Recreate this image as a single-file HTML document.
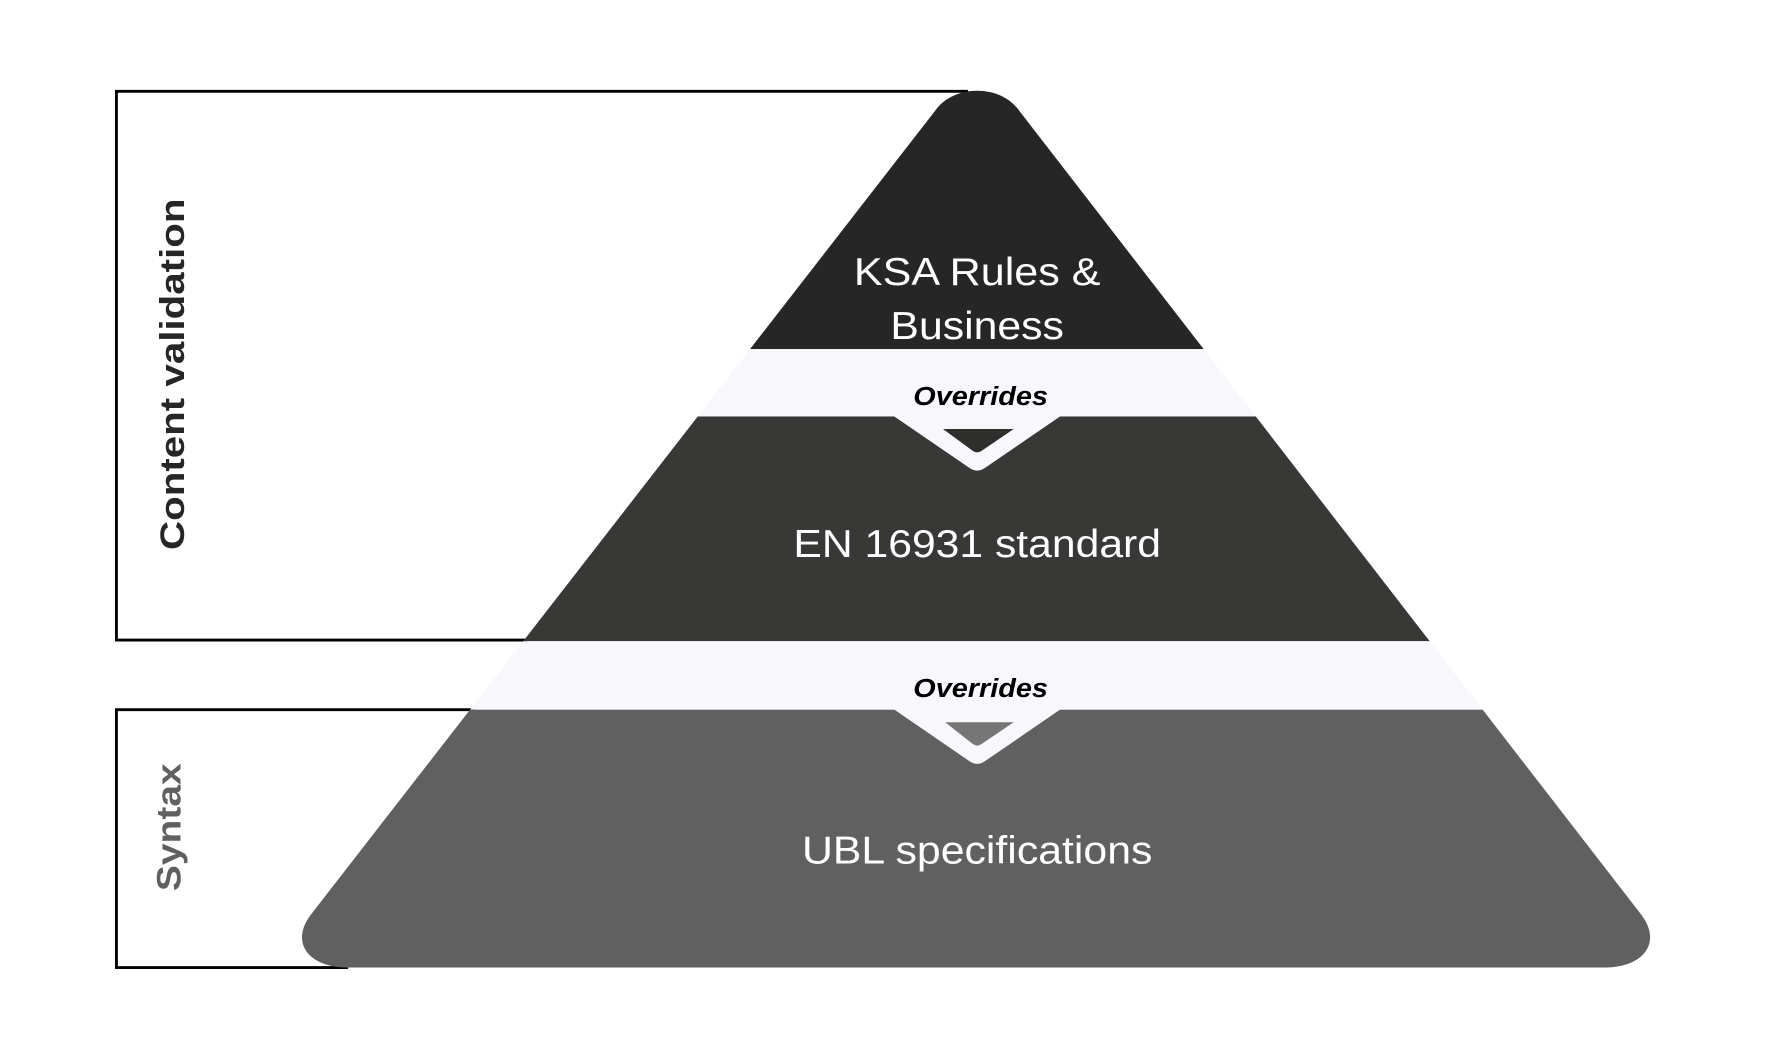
<!DOCTYPE html>
<html><head><meta charset="utf-8"><style>html,body{margin:0;padding:0;background:#fff}svg{display:block}</style></head>
<body>
<svg width="1790" height="1044" viewBox="0 0 1568 915" preserveAspectRatio="none" xmlns="http://www.w3.org/2000/svg">
<defs>
<clipPath id="pyr"><path d="M820,96 C836,74 876,74 892,96 L1438,802 C1456,826 1440,848 1405,848 L305,848 C270,848 254,826 272,802 Z"/></clipPath>
</defs>
<rect width="1568" height="915" fill="#fff"/>
<g stroke="#000" stroke-width="2.5" fill="none">
<path d="M848,80 L102,80 L102,561 L462,561"/>
<path d="M416,622 L102,622 L102,848 L305,848"/>
</g>
<g clip-path="url(#pyr)">
<rect x="0" y="0" width="1568" height="306" fill="#262626"/>
<rect x="0" y="306" width="1568" height="59" fill="#f8f7fc"/>
<rect x="0" y="365" width="1568" height="197" fill="#383937"/>
<rect x="0" y="562" width="1568" height="60" fill="#f8f7fc"/>
<rect x="0" y="622" width="1568" height="230" fill="#606060"/>
</g>
<path d="M782,364 L930,364 L863,410 Q856,415 849,410 Z" fill="#f8f7fc"/>
<path d="M826,376 L888,376 L860,395 Q856,398 852,395 Z" fill="#2e2f2d"/>
<path d="M782,621 L930,621 L863,667 Q856,672 849,667 Z" fill="#f8f7fc"/>
<path d="M828,633 L888,633 L860,652 Q856,655 852,652 Z" fill="#767676"/>
<g font-family="Liberation Sans, Arial, sans-serif" fill="#fff" font-size="34" text-anchor="middle">
<text x="856" y="250" textLength="216" lengthAdjust="spacingAndGlyphs">KSA Rules &amp;</text>
<text x="856" y="297" textLength="152" lengthAdjust="spacingAndGlyphs">Business</text>
<text x="856" y="488" textLength="322" lengthAdjust="spacingAndGlyphs">EN 16931 standard</text>
<text x="856" y="757" textLength="307" lengthAdjust="spacingAndGlyphs">UBL specifications</text>
</g>
<g font-family="Liberation Sans, Arial, sans-serif" font-weight="bold" font-style="italic" font-size="23" fill="#000" text-anchor="middle">
<text x="859" y="355" textLength="118" lengthAdjust="spacingAndGlyphs">Overrides</text>
<text x="859" y="611" textLength="118" lengthAdjust="spacingAndGlyphs">Overrides</text>
</g>
<g font-family="Liberation Sans, Arial, sans-serif" font-weight="bold" font-size="30">
<text transform="translate(161,482) rotate(-90)" fill="#262626" textLength="308" lengthAdjust="spacingAndGlyphs">Content validation</text>
<text transform="translate(158,781) rotate(-90)" fill="#606060" textLength="112" lengthAdjust="spacingAndGlyphs">Syntax</text>
</g>
</svg>
</body></html>
